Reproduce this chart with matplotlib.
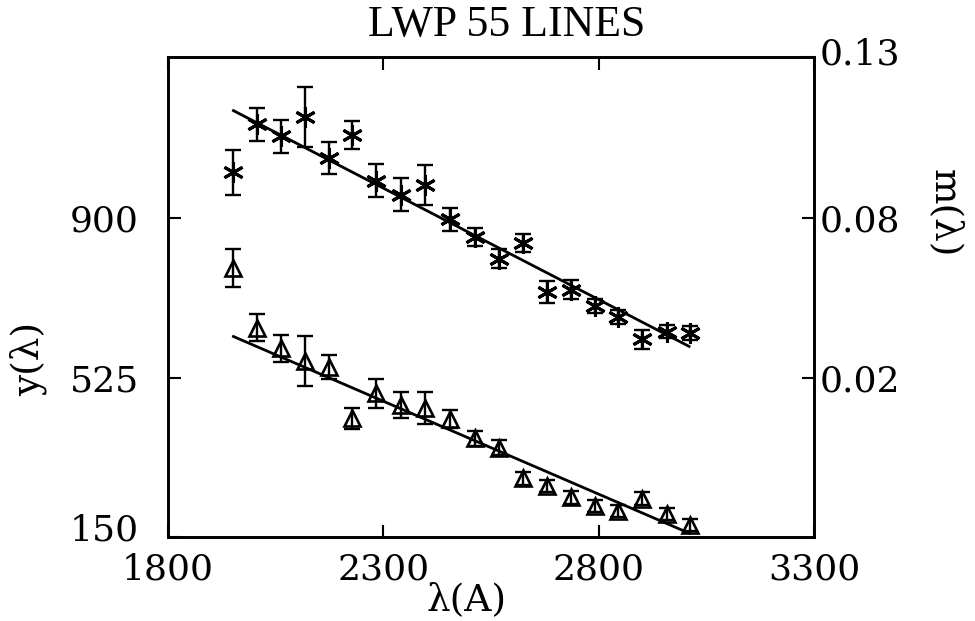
import matplotlib
matplotlib.use("Agg")
import matplotlib.pyplot as plt
import matplotlib.transforms as mtransforms

# ---- data ----
wavelength = [1952, 2006, 2062, 2117, 2173, 2228, 2284, 2341, 2397, 2455,
              2512, 2568, 2624, 2680, 2736, 2791, 2846, 2901, 2958, 3013]

# y(lambda) -- triangles, left axis
y_vals = [783, 643, 594, 564, 550, 429, 488, 461, 454, 428,
          382, 360, 288, 270, 243, 222, 212, 240, 205, 178]
y_err = [45, 31, 31, 59, 29, 24, 34, 31, 38, 22,
         18, 18, 16, 15, 15, 14, 14, 15, 14, 14]

# m(lambda) -- asterisks, right axis
m_vals = [0.0974, 0.1155, 0.1109, 0.1181, 0.1026, 0.1114, 0.0942, 0.0890, 0.0925, 0.0797,
          0.0730, 0.0648, 0.0707, 0.0523, 0.0532, 0.0470, 0.0429, 0.0345, 0.0374, 0.0368]
m_err = [0.0085, 0.0062, 0.0063, 0.0113, 0.0060, 0.0053, 0.0063, 0.0063, 0.0075, 0.0044,
         0.0033, 0.0036, 0.0034, 0.0043, 0.0035, 0.0028, 0.0025, 0.0035, 0.0025, 0.0025]

# fitted straight lines (end points)
fit_x = [1952, 3010]
fit_y = [622, 159]
fit_m = [0.1206, 0.0318]

x_ticks = [1800, 2300, 2800, 3300]
y_ticks = [150, 525, 900]
m_tick_labels = ["0.02", "0.08", "0.13"]

title = "LWP 55 LINES"
x_label = "\u03bb(A)"
y_label = "y(\u03bb)"
m_label = "m(\u03bb)"

# ---- figure ----
W, H = 975, 621
fig = plt.figure(figsize=(W / 100, H / 100), dpi=100)
L, R, T, B = 168, 814, 57, 537
ax = fig.add_axes([L / W, (H - B) / H, (R - L) / W, (B - T) / H])
ax2 = ax.twinx()

tick_font = dict(family="DejaVu Serif", size=26)

ax.set_xlim(1800, 3300)
ax.set_ylim(150, 1280)
ax2.set_ylim(-0.04, 0.1408)

# triangles
ax.errorbar(wavelength, y_vals, yerr=y_err, fmt="none", ecolor="black",
            elinewidth=1.7, capsize=6, capthick=1.7, zorder=3)
ax.plot(wavelength, y_vals, linestyle="none", marker="^", markersize=11,
        markerfacecolor="none", markeredgecolor="black", markeredgewidth=1.9, zorder=4)
ax.plot(fit_x, fit_y, color="black", linewidth=2.0, zorder=2)

# asterisks
ax2.errorbar(wavelength, m_vals, yerr=m_err, fmt="none", ecolor="black",
             elinewidth=1.7, capsize=6, capthick=1.7, zorder=3)
ax2.plot(wavelength, m_vals, linestyle="none", marker=(6, 2, 0), markersize=15,
         markeredgecolor="black", markeredgewidth=2.2, zorder=4)
ax2.plot(fit_x, fit_m, color="black", linewidth=2.0, zorder=2)

# ticks
ax.set_xticks(x_ticks)
ax.set_xticklabels([str(v) for v in x_ticks], fontdict=tick_font)
ax.set_yticks(y_ticks)
ax.set_yticklabels([str(v) for v in y_ticks], fontdict=tick_font)
ax.tick_params(axis="x", direction="in", length=9, width=1.5, top=True, pad=11)
ax.tick_params(axis="y", direction="in", length=9, width=1.5, pad=21)

m_lo, m_hi = ax2.get_ylim()
ax2.set_yticks([0.02, 0.08, m_hi])
ax2.set_yticklabels(m_tick_labels, fontdict=tick_font)
ax2.tick_params(axis="y", direction="in", length=9, width=1.5, pad=4)

# small vertical nudges of the corner labels, as in the reference
up10 = mtransforms.ScaledTranslation(0, 10 / 100, fig.dpi_scale_trans)
up6 = mtransforms.ScaledTranslation(0, 6 / 100, fig.dpi_scale_trans)
lab150 = ax.get_yticklabels()[0]
lab150.set_transform(lab150.get_transform() + up10)
lab013 = ax2.get_yticklabels()[2]
lab013.set_transform(lab013.get_transform() + up6)

for a in (ax, ax2):
    for s in a.spines.values():
        s.set_linewidth(1.9)

# labels placed as figure text
fig.text(507 / W, 1 - 25 / H, title, ha="center", va="center",
         family="Liberation Serif", size=31.5)
fig.text(467 / W, 1 - 600 / H, x_label, ha="center", va="center",
         family="DejaVu Serif", size=27)
fig.text(28 / W, 1 - 359 / H, y_label, ha="center", va="center",
         rotation=90, family="DejaVu Serif", size=27)
fig.text(945 / W, 1 - 213 / H, m_label, ha="center", va="center",
         rotation=270, family="DejaVu Serif", size=27)

fig.savefig("out.png", dpi=100)
